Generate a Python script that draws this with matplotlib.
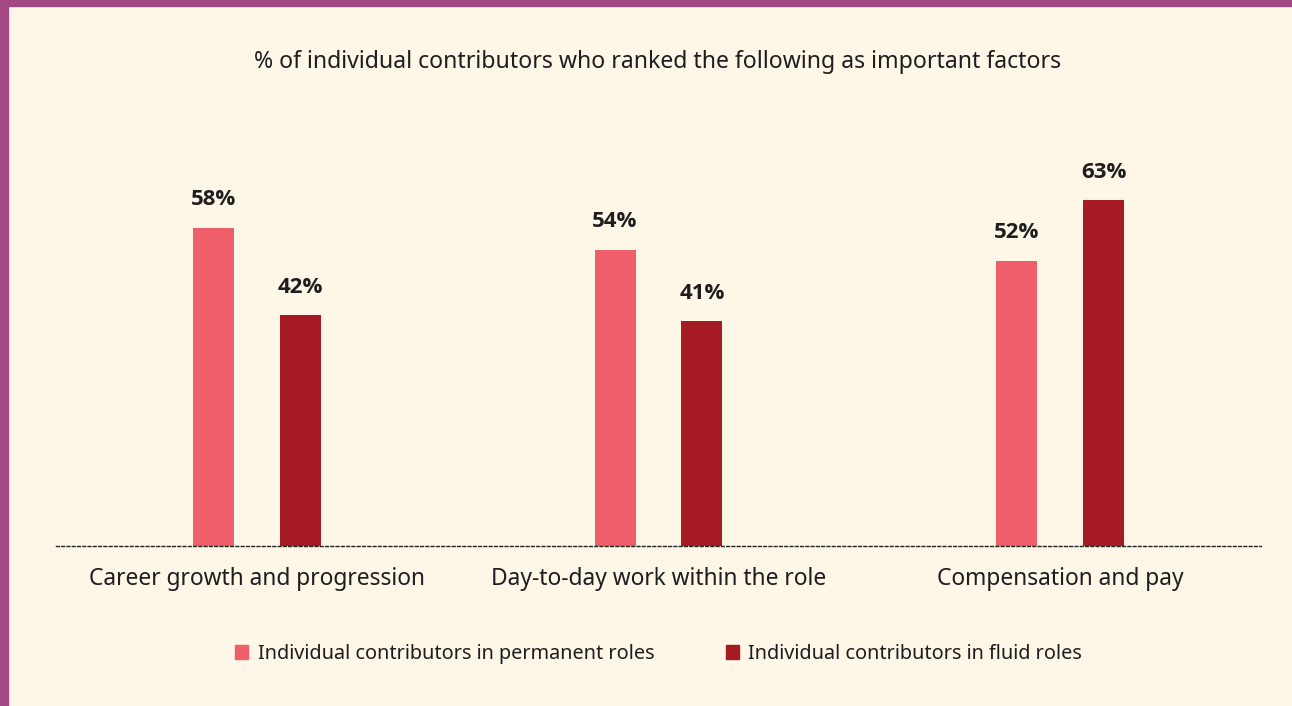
import matplotlib
matplotlib.use("Agg")
import matplotlib.pyplot as plt
from matplotlib.patches import Rectangle, Patch
import numpy as np

categories = ["Career growth and progression", "Day-to-day work within the role", "Compensation and pay"]
permanent = [58, 54, 52]
fluid = [42, 41, 63]
series_names = ["Individual contributors in permanent roles", "Individual contributors in fluid roles"]
title = "% of individual contributors who ranked the following as important factors"

BG = "#FEF6E7"
PURPLE = "#A24983"
PINK = "#EE5F69"
DARK = "#A61A23"
TXT = "#1E1E1E"

plt.rcParams['font.family'] = ['Noto Sans', 'DejaVu Sans']

W, H = 1292, 706
fig = plt.figure(figsize=(W/100, H/100), dpi=100, facecolor=BG)

# borders
fig.patches.append(Rectangle((0, 1 - 6/H), 1, 6/H, transform=fig.transFigure, color=PURPLE, zorder=0))
fig.patches.append(Rectangle((0, 0), 8/W, 1, transform=fig.transFigure, color=PURPLE, zorder=0))

ax_left, ax_right = 56, 1261
ax_bottom = 546
ax_top = 100
ax = fig.add_axes([ax_left/W, (H-ax_bottom)/H, (ax_right-ax_left)/W, (ax_bottom-ax_top)/H])
ax.set_facecolor(BG)
px_per_pct = 5.49
ax.set_ylim(0, (ax_bottom-ax_top)/px_per_pct)
ax.set_xlim(-0.5, len(categories)-0.5)

x = np.arange(len(categories))
bw = 41/401.7
off = 43.5/401.7
b1 = ax.bar(x - off, permanent, width=bw, color=PINK, zorder=2)
b2 = ax.bar(x + off, fluid, width=bw, color=DARK, zorder=2)

for bars, vals in ((b1, permanent), (b2, fluid)):
    for b, v in zip(bars, vals):
        ax.annotate(f"{v}%", (b.get_x()+b.get_width()/2, v), xytext=(0, 12.5),
                    textcoords="offset points", ha="center", va="bottom",
                    fontsize=16, fontweight="bold", color=TXT,
                    family=['Open Sans', 'DejaVu Sans'])

for s in ["top", "right", "left"]:
    ax.spines[s].set_visible(False)
ax.spines["bottom"].set_linestyle((0, (2, 1.8)))
ax.spines["bottom"].set_linewidth(1.0)
ax.spines["bottom"].set_color("#222222")
ax.set_yticks([])
ax.set_xticks(x)
ax.set_xticklabels(categories, fontsize=16.4, color=TXT)
ax.tick_params(axis="x", length=0, pad=15)

fig.text(658/W, 1 - 62/H, title, ha="center", va="center", fontsize=16.6, color=TXT)

handles = [Patch(color=PINK), Patch(color=DARK)]
fig.legend(handles, series_names, loc="center", bbox_to_anchor=(658.5/W, 1 - 654/H), ncol=2,
           frameon=False, fontsize=14.3, handlelength=0.65, handleheight=0.65,
           handletextpad=0.5, columnspacing=3.6, labelcolor=TXT)

fig.savefig("out.png", dpi=100, facecolor=BG)
